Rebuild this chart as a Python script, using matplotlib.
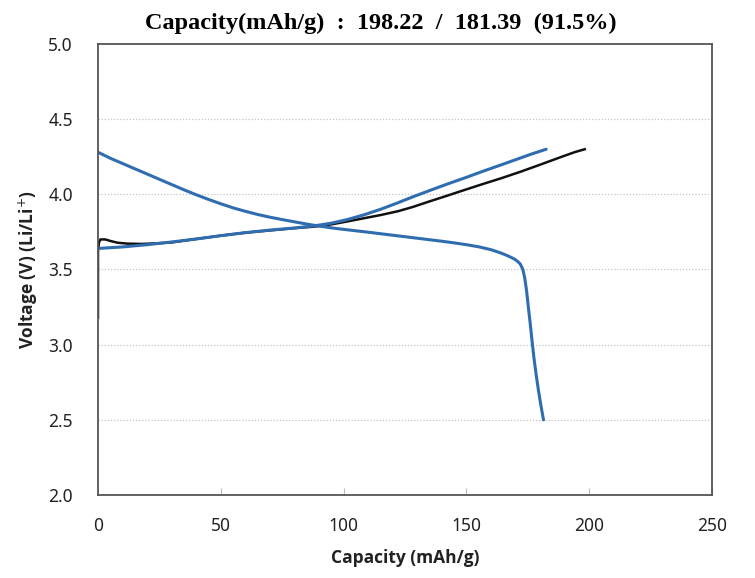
import matplotlib
matplotlib.use("Agg")
import matplotlib.pyplot as plt

# charge curve (black)
black_charge_cap = [0, 0, 0.4, 1, 3, 5, 8, 12, 18, 25, 30, 40, 50, 60, 70, 80, 88, 95, 101, 108,
                    115, 122, 128, 135, 142, 150, 157, 164, 172, 180, 188, 194, 198.2]
black_charge_v = [3.18, 3.62, 3.68, 3.70, 3.70, 3.69, 3.678, 3.672, 3.670, 3.675, 3.68, 3.703, 3.725,
                  3.745, 3.76, 3.775, 3.785, 3.80, 3.818, 3.84, 3.862, 3.887, 3.915, 3.953, 3.99,
                  4.033, 4.07, 4.106, 4.15, 4.197, 4.245, 4.28, 4.30]

# charge curve (blue)
blue_charge_cap = [0, 10, 20, 30, 40, 50, 60, 70, 80, 88, 95, 101, 108, 115, 122, 128, 135, 142,
                   150, 157, 164, 170, 176, 182.5]
blue_charge_v = [3.64, 3.65, 3.665, 3.683, 3.703, 3.725, 3.745, 3.762, 3.776, 3.79, 3.808, 3.83,
                 3.862, 3.9, 3.943, 3.982, 4.025, 4.067, 4.113, 4.155, 4.195, 4.23, 4.265, 4.30]

# discharge curve (blue)
discharge_cap = [0, 5, 10, 15, 20, 25, 30, 35, 40, 45, 50, 55, 60, 65, 70, 75, 80, 85, 90, 95,
                 100, 110, 120, 130, 140, 145, 150, 155, 160, 164, 167, 169.5, 171, 172, 173, 173.8,
                 174.5, 175.3, 176, 176.7, 177.6, 178.5, 179.4, 180.3, 181.4]
discharge_v = [4.28, 4.24, 4.205, 4.17, 4.135, 4.10, 4.065, 4.03, 3.997, 3.966, 3.937, 3.91, 3.887,
               3.866, 3.848, 3.832, 3.817, 3.802, 3.789, 3.777, 3.767, 3.748, 3.728, 3.708, 3.688,
               3.677, 3.665, 3.651, 3.632, 3.61, 3.59, 3.57, 3.552, 3.535, 3.50, 3.44, 3.36, 3.24,
               3.14, 3.03, 2.90, 2.79, 2.69, 2.60, 2.50]

x_ticks = [0, 50, 100, 150, 200, 250]
y_ticks = [2.0, 2.5, 3.0, 3.5, 4.0, 4.5, 5.0]
title = "Capacity(mAh/g)  :  198.22  /  181.39  (91.5%)"

blue = "#2f6db0"

fig = plt.figure(figsize=(7.55, 5.78), dpi=100)
ax = fig.add_axes([0.1298, 0.1436, 0.8132, 0.7803])

ax.plot(black_charge_cap, black_charge_v, color="#111111", lw=1.8, solid_joinstyle="round")
ax.plot(discharge_cap, discharge_v, color=blue, lw=2.2, solid_joinstyle="round", solid_capstyle="round")
ax.plot(blue_charge_cap, blue_charge_v, color=blue, lw=2.2, solid_joinstyle="round", solid_capstyle="round")

ax.set_xlim(0, 250)
ax.set_ylim(2.0, 5.0)
ax.set_xticks(x_ticks)
ax.set_yticks(y_ticks)
ax.set_yticklabels([f"{v:.1f}" for v in y_ticks])

for v in y_ticks[1:-1]:
    ax.axhline(v, color="#c4c4c4", lw=0.9, ls=(0, (1, 1.5)), zorder=0)

for s in ax.spines.values():
    s.set_color("#555555")
    s.set_linewidth(1.3)

ax.tick_params(axis="x", direction="in", length=5, color="#bbbbbb", pad=16,
               labelsize=12.5, labelcolor="#222222")
ax.tick_params(axis="y", length=0, pad=18, labelsize=12.5, labelcolor="#222222")
for lab in ax.get_xticklabels() + ax.get_yticklabels():
    lab.set_family("Noto Sans")

ax.set_xlabel("Capacity (mAh/g)", fontsize=12.5, fontweight="bold", family="Open Sans",
              color="#222222", labelpad=10)
ax.set_ylabel("Voltage (V) (Li/Li$^{+}$)", fontsize=12.5, fontweight="bold", family="Open Sans",
              color="#222222", labelpad=6)

fig.text(0.505, 0.978, title, ha="center", va="top", fontsize=17.5, fontweight="bold",
         family="Liberation Serif")

fig.savefig("out.png", dpi=100)
